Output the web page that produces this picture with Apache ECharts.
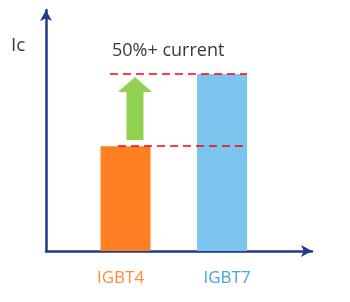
<!DOCTYPE html>
<html><head><meta charset="utf-8">
<script src="https://cdn.jsdelivr.net/npm/echarts@6/dist/echarts.min.js"></script>
<style>html,body{margin:0;padding:0;background:#fff}#c{width:350px;height:302px}</style>
</head><body><div id="c"></div>
<script>
var categories = ['IGBT4', 'IGBT7'];
var positions = [1, 2];
var values = [100, 169];
var barColors = ['#FF8022', '#7AC4EE'];
var labelColors = ['#FF8C3A', '#48A3E0'];
var annotation = '50%+ current';
var yName = 'Ic';

var chart = echarts.init(document.getElementById('c'), null, {renderer: 'canvas'});
var axisColor = '#1F3B8A';
var data = categories.map(function (c, i) {
  return {
    name: c, value: [positions[i], values[i]],
    itemStyle: {color: barColors[i]},
    label: {color: labelColors[i], offset: [i === 0 ? -5 : 5, 0]}
  };
});
chart.setOption({
  animation: false,
  grid: {left: 46, right: 38, top: 10, bottom: 51},
  xAxis: {
    type: 'value', min: 0.176, max: 2.932,
    axisLine: {show: true, onZero: true, symbol: ['none', 'arrow'], symbolSize: [9, 11], lineStyle: {color: axisColor, width: 2.5}},
    axisTick: {show: false}, axisLabel: {show: false}, splitLine: {show: false}
  },
  yAxis: {
    type: 'value', min: 0, max: 230,
    axisLine: {show: true, onZero: false, symbol: ['none', 'arrow'], symbolSize: [9, 11], lineStyle: {color: axisColor, width: 2.5}},
    axisTick: {show: false}, axisLabel: {show: false}, splitLine: {show: false}
  },
  graphic: [
    {type: 'text', left: 11, top: 36, style: {text: yName, fontSize: 19, fill: '#404040', fontFamily: 'Open Sans'}},
    {type: 'text', left: 112, top: 42, style: {text: annotation, fontSize: 18, fill: '#3a3a3a', fontFamily: 'Open Sans'}}
  ],
  series: [{
    type: 'bar', barWidth: 50, data: data,
    label: {show: true, position: 'bottom', distance: 19, formatter: '{b}', fontSize: 17, fontFamily: 'Open Sans'},
    markLine: {
      silent: true, symbol: ['none', 'none'], label: {show: false},
      lineStyle: {color: '#FF0000', type: [8, 5], width: 1.5},
      data: [
        [{coord: [0.839, values[1]]}, {coord: [2.259, values[1]]}],
        [{coord: [0.922, values[0]]}, {coord: [2.259, values[0]]}]
      ]
    },
    markPoint: {
      silent: true, label: {show: false},
      data: [{
        coord: [1.098, (values[0] + values[1]) / 2 + 1.5],
        symbol: 'path://M17 0 L34 15 L25.5 15 L25.5 63 L8.5 63 L8.5 15 L0 15 Z',
        symbolSize: [34, 63],
        itemStyle: {color: '#92D050'}
      }]
    }
  }]
});
</script></body></html>
